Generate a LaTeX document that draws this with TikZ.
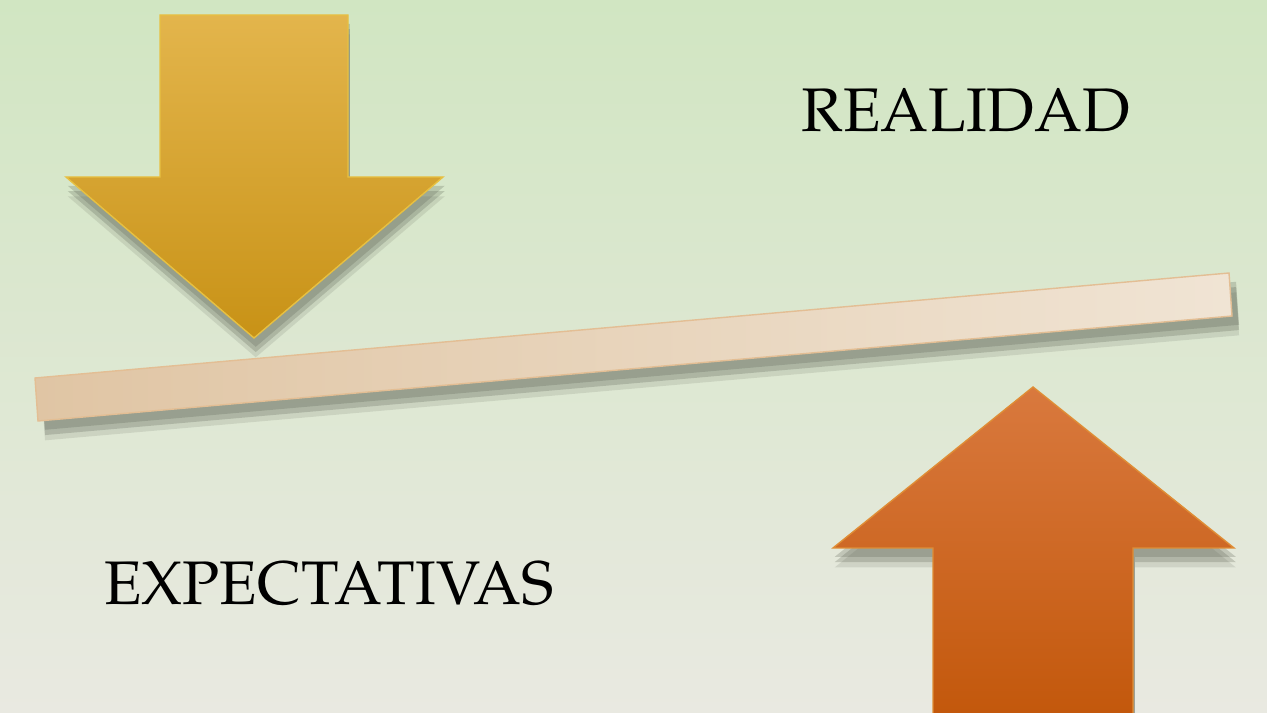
\documentclass[tikz,border=0pt]{standalone}
\usepackage[T1]{fontenc}
\usepackage{mathpazo}
\usetikzlibrary{shadows}

\definecolor{bgtop}{RGB}{209,230,194}
\definecolor{bgbottom}{RGB}{233,233,225}
\definecolor{goldtop}{RGB}{227,181,76}
\definecolor{goldbottom}{RGB}{200,146,22}
\definecolor{orangetop}{RGB}{217,121,62}
\definecolor{orangebottom}{RGB}{195,88,12}
\definecolor{barleft}{RGB}{224,197,164}
\definecolor{barright}{RGB}{240,228,212}
\definecolor{shadowgray}{RGB}{90,96,82}

\begin{document}
\begin{tikzpicture}[x=0.01cm,y=-0.01cm,
    softshadow/.style={
        drop shadow={shadow xshift=#1,shadow yshift=-2.5pt,opacity=0.25,fill=shadowgray},
        drop shadow={shadow xshift=#1,shadow yshift=-4pt,opacity=0.25,fill=shadowgray},
        drop shadow={shadow xshift=#1,shadow yshift=-5.5pt,opacity=0.15,fill=shadowgray}},
    goldarrow/.style={top color=goldtop,bottom color=goldbottom,draw=goldtop!85!yellow,line width=0.4pt,softshadow=0.5pt},
    orangearrow/.style={top color=orangetop,bottom color=orangebottom,draw=orangetop!85!yellow,line width=0.4pt,softshadow=0.5pt},
    balancebar/.style={left color=barleft,right color=barright,draw=barleft!90!orange,line width=0.4pt,softshadow=2pt},
    bigword/.style={anchor=base,inner sep=0,font=\fontsize{17.5}{21}\selectfont}]
    \pgfmathsetmacro{\pagewidth}{1267}
    \pgfmathsetmacro{\pageheight}{713}
    % background
    \shade[top color=bgtop,bottom color=bgbottom] (0,0) rectangle (\pagewidth,\pageheight);
    \useasboundingbox (0,0) rectangle (\pagewidth,\pageheight);
    % the bar
    \path[balancebar] (35,378) -- (1229,273) -- (1232,316) -- (38,421) -- cycle;
    % down arrow
    \path[goldarrow] (160,15) -- (348,15) -- (348,177) -- (443,177) -- (254,338)
        -- (66,177) -- (160,177) -- cycle;
    % up arrow
    \path[orangearrow] (933,713) -- (933,548) -- (833,548) -- (1033,387) -- (1234,548)
        -- (1133,548) -- (1133,713);
    \node[bigword] (realidad) at (966,132) {REALIDAD};
    \node[bigword] (expectativas) at (329,604) {EXPECTATIVAS};
\end{tikzpicture}
\end{document}
